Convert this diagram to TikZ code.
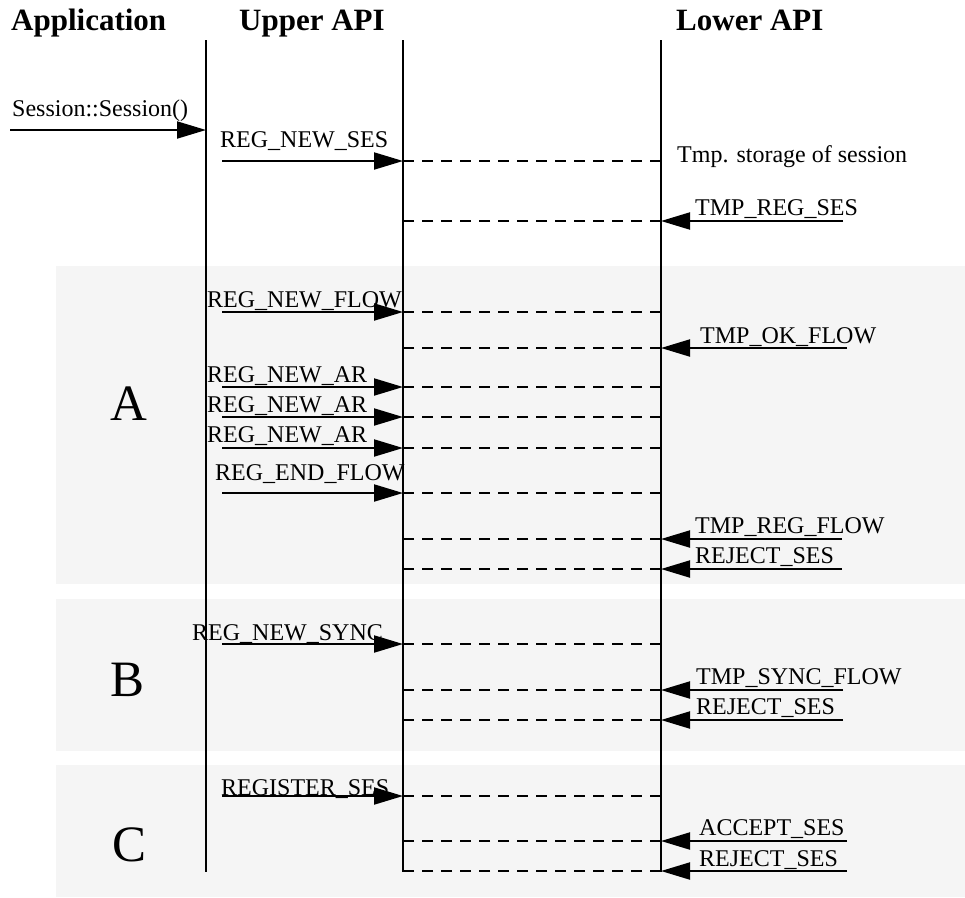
\documentclass[tikz,border=0pt]{standalone}
\usepackage{fontspec}
\setmainfont{Liberation Serif}
\usetikzlibrary{arrows.meta}

\definecolor{bandgray}{RGB}{245,245,245}

% call from the application side into the upper API, forwarded (dashed) to the lower API
\newcommand\callmsg[6]{%
  \coordinate (#1s) at (#3,#2);
  \coordinate (#1u) at (up |- #1s);
  \coordinate (#1d) at (low |- #1s);
  \node[lbl] (#1l) at (#4,#5) {#6};
  \draw[msg] (#1s) -- (#1u);
  \draw[fwd] (#1u) -- (#1d);
}
% answer coming back from the lower side, forwarded (dashed) to the upper API
\newcommand\replymsg[6]{%
  \coordinate (#1s) at (#3,#2);
  \coordinate (#1u) at (up |- #1s);
  \coordinate (#1d) at (low |- #1s);
  \node[lbl] (#1l) at (#4,#5) {#6};
  \draw[msg] (#1s) -- (#1d);
  \draw[fwd] (#1d) -- (#1u);
}

\begin{document}
\begin{tikzpicture}[x=1pt,y=-1pt,
  lifeline/.style={line width=1.5pt},
  msg/.style={line width=2pt,-{Triangle[length=29pt,width=17pt]}},
  fwd/.style={line width=1.8pt,dash pattern=on 11pt off 8pt},
  lbl/.style={anchor=base west,inner sep=0pt,font=\fontsize{24}{28}\selectfont},
  head/.style={anchor=base west,inner sep=0pt,font=\fontsize{31}{36}\selectfont\bfseries},
  group/.style={anchor=base,inner sep=0pt,font=\fontsize{51}{56}\selectfont},
  band/.style={fill=bandgray,draw=none}]
\useasboundingbox (0,0) rectangle (965,897);

% shaded phases
\fill[band] (56,266) rectangle (965,584);
\fill[band] (56,599) rectangle (965,751);
\fill[band] (56,765) rectangle (965,897);

% column headings
\node[head] (happ) at (11,30) {Application};
\node[head] (hup) at (239,30) {Upper API};
\node[head] (hlow) at (676,30) {Lower API};

% lifelines
\coordinate (app) at (206,40);
\coordinate (appEnd) at (206,872);
\coordinate (up) at (403,40);
\coordinate (upEnd) at (403,872);
\coordinate (low) at (661,40);
\coordinate (lowEnd) at (661,872);
\draw[lifeline] (app) -- (appEnd);
\draw[lifeline] (up) -- (upEnd);
\draw[lifeline] (low) -- (lowEnd);

% session constructor call
\coordinate (ctorS) at (10,130);
\coordinate (ctorE) at (app |- ctorS);
\node[lbl] (ctorL) at (12,116) {Session::Session()};
\draw[msg] (ctorS) -- (ctorE);

\callmsg{m1}{161}{222}{220}{147}{REG\_NEW\_SES}
\node[lbl] (note) at (677,162) {Tmp. storage of session};
\replymsg{m2}{221}{843}{695}{215}{TMP\_REG\_SES}

% phase A
\node[group] (ga) at (129,420) {A};
\callmsg{m3}{312}{222}{207}{307}{REG\_NEW\_FLOW}
\replymsg{m4}{348}{847}{700}{343}{TMP\_OK\_FLOW}
\callmsg{m5}{387}{222}{207}{382}{REG\_NEW\_AR}
\callmsg{m6}{417}{222}{207}{412}{REG\_NEW\_AR}
\callmsg{m7}{448}{222}{207}{442}{REG\_NEW\_AR}
\callmsg{m8}{493}{222}{215}{480}{REG\_END\_FLOW}
\replymsg{m9}{539}{842}{695}{533}{TMP\_REG\_FLOW}
\replymsg{m10}{569}{842}{695}{563}{REJECT\_SES}

% phase B
\node[group] (gb) at (128,696) {B};
\callmsg{m11}{644}{222}{192}{640}{REG\_NEW\_SYNC}
\replymsg{m12}{690}{843}{696}{684}{TMP\_SYNC\_FLOW}
\replymsg{m13}{720}{843}{696}{714}{REJECT\_SES}

% phase C
\node[group] (gc) at (130,861) {C};
\callmsg{m14}{796}{222}{221}{795}{REGISTER\_SES}
\replymsg{m15}{841}{847}{699}{835}{ACCEPT\_SES}
\replymsg{m16}{871}{847}{699}{866}{REJECT\_SES}
\end{tikzpicture}
\end{document}
